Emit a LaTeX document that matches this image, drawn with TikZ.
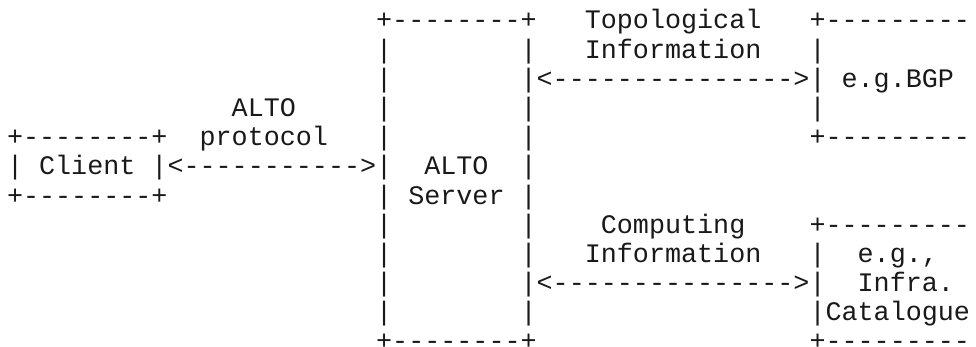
\documentclass[tikz,border=0pt]{standalone}
\usepackage{fontspec}
\setmonofont{Liberation Mono}
% one text cell of the character grid: name, column, row, text
\newcommand\asc[4]{\node[ascii] (#1) at ({7+#2*16.05},{317-#3*29.18}) {#4};}
\begin{document}
\begin{tikzpicture}[x=1pt, y=1pt,
  ascii/.style={font=\ttfamily\fontsize{26.75}{29.18}\selectfont,
    anchor=base west, inner sep=0pt, outer sep=0pt, text=black!90}]
\useasboundingbox (0,0) rectangle (976,346);
\clip (0,0) rectangle (976,346);
% row 0
\asc{srvTop}{23}{0}{+--------+}
\asc{topoA}{36}{0}{Topological}
\asc{bgpTop}{50}{0}{+---------}
% row 1
\asc{srvL1}{23}{1}{|}
\asc{srvR1}{32}{1}{|}
\asc{topoB}{36}{1}{Information}
\asc{bgpL1}{50}{1}{|}
% row 2
\asc{srvL2}{23}{2}{|}
\asc{topoArrow}{32}{2}{|<--------------->|}
\asc{bgp}{52}{2}{e.g.BGP}
% row 3
\asc{protoA}{14}{3}{ALTO}
\asc{srvL3}{23}{3}{|}
\asc{srvR3}{32}{3}{|}
\asc{bgpL3}{50}{3}{|}
% row 4
\asc{cliTop}{0}{4}{+--------+}
\asc{protoB}{12}{4}{protocol}
\asc{srvL4}{23}{4}{|}
\asc{srvR4}{32}{4}{|}
\asc{bgpBot}{50}{4}{+---------}
% row 5
\asc{cliL}{0}{5}{|}
\asc{client}{2}{5}{Client}
\asc{protoArrow}{9}{5}{|<----------->|}
\asc{srvA}{26}{5}{ALTO}
\asc{srvR5}{32}{5}{|}
% row 6
\asc{cliBot}{0}{6}{+--------+}
\asc{srvL6}{23}{6}{|}
\asc{srvB}{25}{6}{Server}
\asc{srvR6}{32}{6}{|}
% row 7
\asc{srvL7}{23}{7}{|}
\asc{srvR7}{32}{7}{|}
\asc{compA}{37}{7}{Computing}
\asc{catTop}{50}{7}{+---------}
% row 8
\asc{srvL8}{23}{8}{|}
\asc{srvR8}{32}{8}{|}
\asc{compB}{36}{8}{Information}
\asc{catL8}{50}{8}{|}
\asc{catA}{53}{8}{e.g.,}
% row 9
\asc{srvL9}{23}{9}{|}
\asc{compArrow}{32}{9}{|<--------------->|}
\asc{catB}{53}{9}{Infra.}
% row 10
\asc{srvL10}{23}{10}{|}
\asc{srvR10}{32}{10}{|}
\asc{catC}{50}{10}{|Catalogue}
% row 11
\asc{srvBot}{23}{11}{+--------+}
\asc{catBot}{50}{11}{+---------}
\end{tikzpicture}
\end{document}
